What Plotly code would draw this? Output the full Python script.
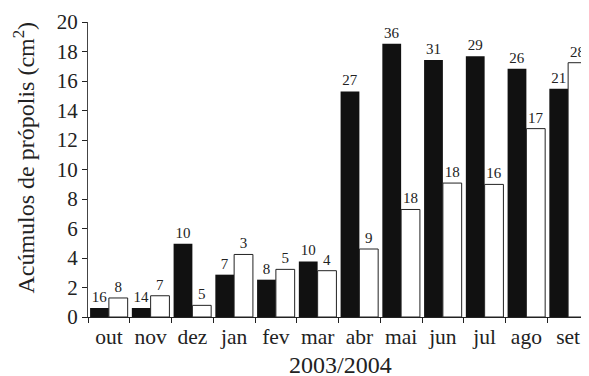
import plotly.graph_objects as go

months = ["out", "nov", "dez", "jan", "fev", "mar", "abr", "mai", "jun", "jul", "ago", "set"]
black_vals = [0.61, 0.61, 4.97, 2.87, 2.53, 3.77, 15.29, 18.53, 17.42, 17.67, 16.83, 15.48]
white_vals = [1.29, 1.44, 0.79, 4.24, 3.23, 3.14, 4.61, 7.29, 9.08, 8.99, 12.77, 17.24]
black_labels = ["16", "14", "10", "7", "8", "10", "27", "36", "31", "29", "26", "21"]
white_labels = ["8", "7", "5", "3", "5", "4", "9", "18", "18", "16", "17", "28"]
y_ticks = [0, 2, 4, 6, 8, 10, 12, 14, 16, 18, 20]

FONT = "Liberation Serif, Times New Roman, serif"

fig = go.Figure()
fig.add_trace(go.Bar(
    x=months, y=black_vals, text=black_labels, textposition="outside",
    marker=dict(color="#111111", line=dict(width=0)),
    textfont=dict(family=FONT, size=15, color="#222"),
    cliponaxis=False, showlegend=False,
))
fig.add_trace(go.Bar(
    x=months, y=white_vals, text=white_labels, textposition="outside",
    marker=dict(color="white", line=dict(color="#222", width=1)),
    textfont=dict(family=FONT, size=15, color="#222"),
    cliponaxis=False, showlegend=False,
))

fig.update_layout(
    width=581, height=368,
    margin=dict(l=80, r=0, t=14, b=59, autoexpand=False),
    paper_bgcolor="white", plot_bgcolor="white",
    barmode="group", bargap=0.1, bargroupgap=0,
    uniformtext=dict(minsize=15, mode="show"),
    font=dict(family=FONT, color="#222"),
    xaxis=dict(
        showline=True, linecolor="#222", linewidth=1,
        ticks="outside", ticklen=5, tickcolor="#222", tickson="boundaries",
        tickangle=0,
        tickfont=dict(family=FONT, size=21.5, color="#222"),
        showgrid=False, zeroline=False, automargin=False,
    ),
    yaxis=dict(
        range=[0, 20], tickvals=y_ticks, ticktext=[str(v) for v in y_ticks],
        showline=True, linecolor="#444", linewidth=1,
        ticks="outside", ticklen=5, tickcolor="#222",
        tickfont=dict(family=FONT, size=21, color="#222"),
        showgrid=False, zeroline=False, automargin=False,
    ),
    annotations=[
        dict(text="2003/2004", xref="paper", yref="paper", x=0.503, y=-0.162,
             xanchor="center", yanchor="middle", showarrow=False,
             font=dict(family=FONT, size=24, color="#222")),
        dict(text="Acúmulos de própolis (cm<sup>2</sup>)", xref="paper", yref="paper",
             x=-0.128, y=0.54, xanchor="center", yanchor="middle", textangle=-90,
             showarrow=False, font=dict(family=FONT, size=24, color="#222")),
    ],
)

fig.write_html("out.html")
